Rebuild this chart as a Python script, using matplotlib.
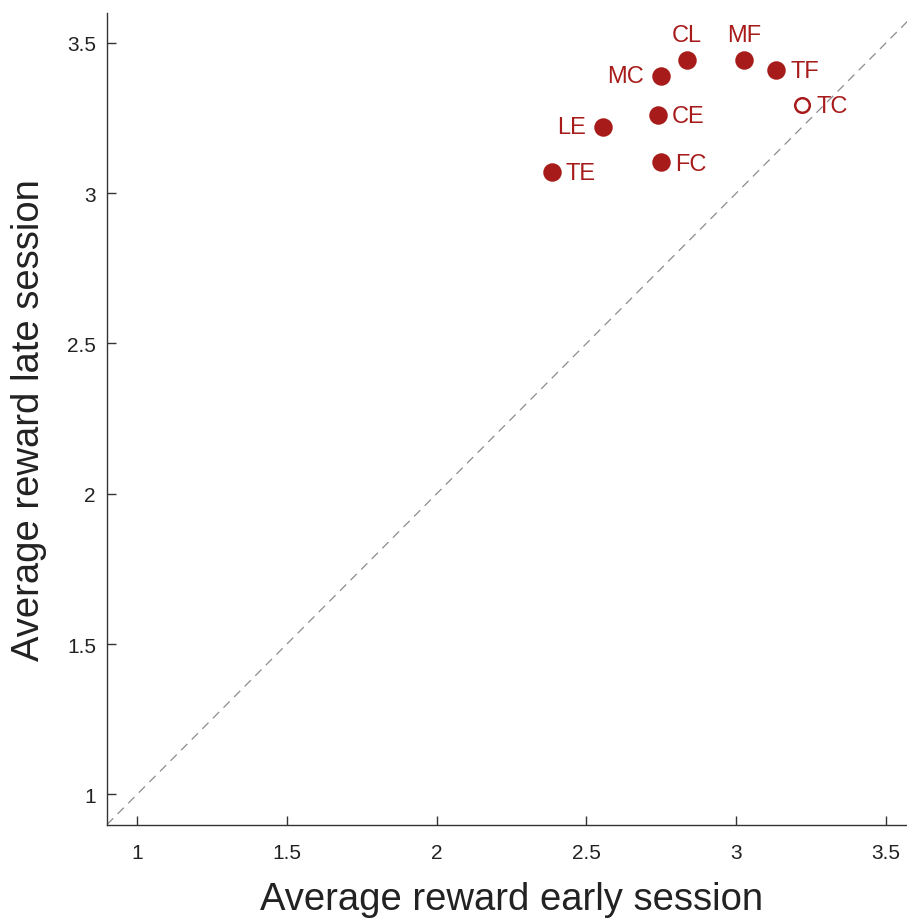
import matplotlib.pyplot as plt

plt.rcParams["font.family"] = ["Liberation Sans", "DejaVu Sans"]

# Average reward per condition, early vs late part of the session
conditions = ["CL", "MF", "TF", "TC", "MC", "CE", "LE", "FC", "TE"]
early_reward = [2.834, 3.026, 3.134, 3.220, 2.748, 2.738, 2.555, 2.750, 2.385]
late_reward = [3.443, 3.443, 3.410, 3.294, 3.388, 3.260, 3.220, 3.102, 3.070]
filled = [True, True, True, False, True, True, True, True, True]
label_side = ["top", "top", "right", "right", "left", "right", "left", "right", "right"]

x_ticks = [1, 1.5, 2, 2.5, 3, 3.5]
y_ticks = [1, 1.5, 2, 2.5, 3, 3.5]
lims = (0.9, 3.6)

RED = "#a81b1b"
AXIS = "#333333"

fig = plt.figure(figsize=(9.07, 9.2), dpi=100)
ax = fig.add_axes([0.118, 0.1027, 0.892, 0.8824])

ax.plot(lims, lims, linestyle=(0, (7, 5)), color="#8c8c8c", linewidth=0.9, zorder=1)

for name, x, y, full, side in zip(conditions, early_reward, late_reward, filled, label_side):
    ax.plot(x, y, "o", markersize=11.5 if full else 10.5,
            markerfacecolor=RED if full else "white",
            markeredgecolor=RED, markeredgewidth=1.8, zorder=3)
    if side == "right":
        offset, ha, va = (10, -1), "left", "center"
    elif side == "left":
        offset, ha, va = (-12, 0), "right", "center"
    else:
        offset, ha, va = (0, 10), "center", "bottom"
    ax.annotate(name, (x, y), xytext=offset, textcoords="offset points",
                ha=ha, va=va, color=RED, fontsize=17)

ax.set_xlim(lims)
ax.set_ylim(lims)
ax.set_xticks(x_ticks)
ax.set_yticks(y_ticks)
ax.set_xticklabels([f"{t:g}" for t in x_ticks])
ax.set_yticklabels([f"{t:g}" for t in y_ticks])

for side in ["top", "right"]:
    ax.spines[side].set_visible(False)
for side in ["left", "bottom"]:
    ax.spines[side].set_color(AXIS)
    ax.spines[side].set_linewidth(1.0)

ax.tick_params(axis="both", direction="in", length=6.5, width=1.0,
               color=AXIS, labelcolor="#222222", labelsize=15)
ax.tick_params(axis="x", pad=13)
ax.tick_params(axis="y", pad=8)

ax.set_xlabel("Average reward early session", fontsize=27.5, color="#222222", labelpad=14)
ax.set_ylabel("Average reward late session", fontsize=27.5, color="#222222", labelpad=14)

fig.savefig("out.png", dpi=100)
